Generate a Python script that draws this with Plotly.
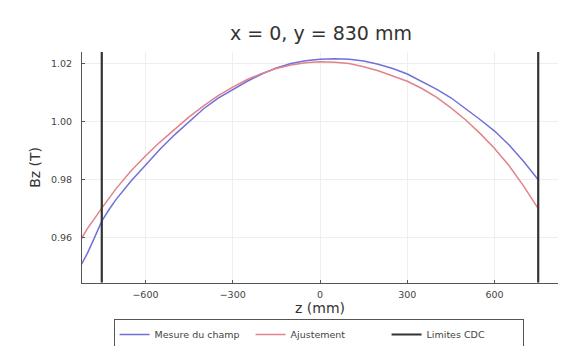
import plotly.graph_objects as go

# Axial position along the magnet (mm)
z_mes = [-820, -800, -775, -750, -725, -700, -650, -600, -550, -500, -450, -400,
         -350, -300, -250, -200, -150, -100, -50, 0, 50, 100, 150, 200, 250,
         300, 350, 400, 450, 500, 550, 600, 650, 700, 750]
# Measured Bz (T) at x = 0, y = 830 mm
bz_mes = [0.9508, 0.9545, 0.9600, 0.9657, 0.9697, 0.9733, 0.9795, 0.9850, 0.9905,
          0.9955, 1.0000, 1.0045, 1.0082, 1.0112, 1.0140, 1.0165, 1.0186, 1.0201,
          1.0211, 1.0216, 1.0218, 1.0216, 1.0210, 1.0199, 1.0184, 1.0165, 1.0140,
          1.0113, 1.0083, 1.0047, 1.0008, 0.9968, 0.9920, 0.9863, 0.9800]

z_fit = [-820, -800, -750, -700, -650, -600, -550, -500, -450, -400, -350, -300,
         -250, -200, -150, -100, -50, 0, 50, 100, 150, 200, 250, 300, 350, 400,
         450, 500, 550, 600, 650, 700, 750]
# Fitted Bz (T)
bz_fit = [0.9597, 0.9630, 0.9702, 0.9770, 0.9830, 0.9882, 0.9930, 0.9975, 1.0017,
          1.0055, 1.0090, 1.0120, 1.0146, 1.0167, 1.0184, 1.0196, 1.0204, 1.0207,
          1.0206, 1.0201, 1.0190, 1.0176, 1.0157, 1.0140, 1.0115, 1.0085, 1.0048,
          1.0007, 0.9960, 0.9908, 0.9848, 0.9778, 0.9700]

# CDC limits (mm)
cdc_limits = [-750, 750]

x_ticks = [-600, -300, 0, 300, 600]
y_ticks = [0.96, 0.98, 1.00, 1.02]
x_range = [-818, 818]
y_range = [0.9444, 1.0241]

font = "DejaVu Sans"

fig = go.Figure()
fig.add_trace(go.Scatter(x=z_mes, y=bz_mes, mode="lines", name="Mesure du champ",
                         line=dict(color="#7070da", width=1.5)))
fig.add_trace(go.Scatter(x=z_fit, y=bz_fit, mode="lines", name="Ajustement",
                         line=dict(color="#e2828b", width=1.5)))

# vertical limit lines spanning the full y range
lx, ly = [], []
for z in cdc_limits:
    lx += [z, z, None]
    ly += [y_range[0], y_range[1], None]
fig.add_trace(go.Scatter(x=lx, y=ly, mode="lines", name="Limites CDC",
                         line=dict(color="#333333", width=2.2)))

fig.update_layout(
    width=563, height=346,
    margin=dict(l=82, r=5, t=52, b=61),
    paper_bgcolor="white", plot_bgcolor="white",
    font=dict(family=font, color="#333333"),
    title=dict(text="x = 0, y = 830 mm", x=(321 / 563), xanchor="center",
               y=1 - 33 / 346, yanchor="middle", font=dict(size=19, color="#333333")),
    showlegend=True,
    legend=dict(orientation="h", x=0.497, xanchor="center",
                yref="container", y=1 - 319 / 346, yanchor="top",
                bordercolor="#555555", borderwidth=1, font=dict(size=9.5, color="#444444"),
                entrywidth=91, entrywidthmode="pixels", itemwidth=30,
                tracegroupgap=0, bgcolor="white"),
)
fig.update_xaxes(range=x_range, tickvals=x_ticks, showline=True, linecolor="#555555",
                 linewidth=1, ticks="inside", ticklen=3, tickcolor="#555555",
                 showgrid=True, gridcolor="#eeeeee", gridwidth=1, zeroline=False,
                 tickfont=dict(size=9.5, color="#444444"), ticklabelstandoff=3,
                 title=dict(text="z (mm)", font=dict(size=14, color="#333333"), standoff=4))
fig.update_yaxes(range=y_range, tickvals=y_ticks, tickformat=".2f", showline=True,
                 linecolor="#555555", linewidth=1, ticks="inside", ticklen=3,
                 tickcolor="#555555", showgrid=True, gridcolor="#eeeeee", gridwidth=1,
                 zeroline=False, tickfont=dict(size=9.5, color="#444444"),
                 ticklabelstandoff=7,
                 title=dict(text="Bz (T)", font=dict(size=14, color="#333333"), standoff=7))

fig.write_html("out.html")
